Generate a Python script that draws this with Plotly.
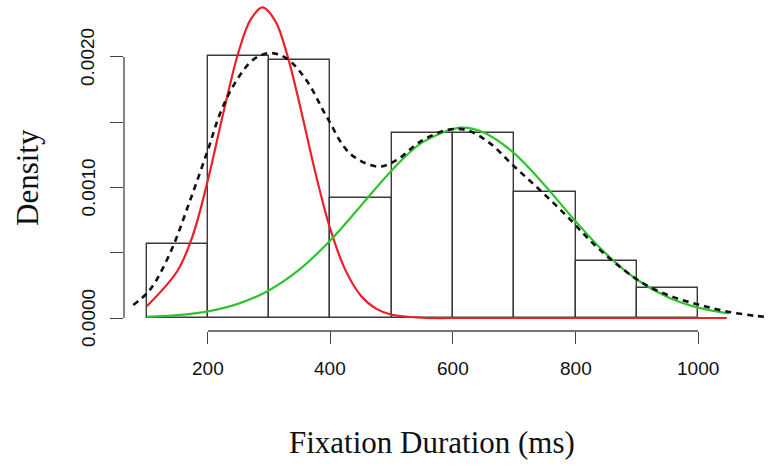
import plotly.graph_objects as go

# Histogram of fixation durations (density scale)
bin_edges = [100, 200, 300, 400, 500, 600, 700, 800, 900, 1000]
bin_density = [0.000565, 0.00201, 0.00198, 0.000917, 0.00142, 0.00142, 0.000963, 0.000439, 0.00023]

# Kernel density estimate (dashed)
kde_x = [78, 105, 138, 171, 200, 220, 244, 274, 301, 328, 361, 394, 432, 478, 508,
         546, 590, 622, 660, 698, 742, 786, 829, 873, 916, 960, 1003, 1047, 1096, 1108]
kde_y = [0.0001, 0.000215, 0.000496, 0.000904, 0.00129, 0.00157, 0.0018, 0.00198, 0.00203,
         0.00199, 0.00182, 0.00154, 0.00126, 0.00116, 0.00121, 0.00135, 0.00144, 0.00144,
         0.00134, 0.00117, 0.00098, 0.00078, 0.00057, 0.00039, 0.00025, 0.00016, 0.0001,
         0.00005, 0.000015, 0.00001]

# Short-fixation mixture component (red)
red_x = [100, 150, 175, 200, 225, 250, 270, 289, 310, 330, 350, 375, 400, 425, 450, 475,
         500, 550, 600, 700, 800, 900, 1000, 1047]
red_y = [0.00009, 0.00036, 0.00063, 0.00106, 0.00157, 0.00204, 0.00229, 0.00238, 0.002275,
         0.002005, 0.00163, 0.00112, 0.000677, 0.000361, 0.000169, 0.00007, 0.000025,
         0.000002, 0, 0, 0, 0, 0, 0]

# Long-fixation mixture component (green)
green_x = [100, 150, 200, 250, 300, 350, 400, 450, 500, 550, 614, 650, 700, 750, 800, 850,
           900, 950, 1000, 1050]
green_y = [0.0000084, 0.0000217, 0.0000513, 0.00011, 0.000213, 0.000374, 0.000596, 0.000862,
           0.001131, 0.001346, 0.001458, 0.001421, 0.001262, 0.001016, 0.000742, 0.000491,
           0.000295, 0.000161, 0.0000794, 0.0000356]

x_ticks = [200, 400, 600, 800, 1000]
x_tick_text = ["200", "400", "600", "800", "1000"]
y_ticks = [0.0, 0.0005, 0.0010, 0.0015, 0.0020]
y_tick_text = ["0.0000", "", "0.0010", "", "0.0020"]

bar_x = [(a + b) / 2 for a, b in zip(bin_edges[:-1], bin_edges[1:])]
bar_w = [b - a for a, b in zip(bin_edges[:-1], bin_edges[1:])]

fig = go.Figure()
fig.add_trace(go.Bar(x=bar_x, y=bin_density, width=bar_w,
                     marker=dict(color="white", line=dict(color="#3a3a3a", width=1.4))))
fig.add_trace(go.Scatter(x=red_x, y=red_y, mode="lines", line_shape="spline",
                         line=dict(color="#ec2027", width=2.2)))
fig.add_trace(go.Scatter(x=green_x, y=green_y, mode="lines", line_shape="spline",
                         line=dict(color="#2fc42f", width=2.2)))
fig.add_trace(go.Scatter(x=kde_x, y=kde_y, mode="lines", line_shape="spline",
                         line=dict(color="#111111", width=2.6, dash="6px,5px")))

axis_color = "#444444"
tick_font = dict(family="Liberation Sans, Arial, sans-serif", size=19, color="#111111")
serif = "Liberation Serif, Times New Roman, serif"

fig.update_layout(
    width=770, height=466,
    margin=dict(l=124, r=4, t=4, b=135),
    paper_bgcolor="white", plot_bgcolor="white",
    showlegend=False, bargap=0,
    xaxis=dict(range=[62.9, 1111], tickvals=x_ticks, ticks="outside", ticklen=12,
               tickcolor=axis_color, tickwidth=1.3, showline=False, showgrid=False,
               zeroline=False, showticklabels=False),
    yaxis=dict(range=[-0.0000996, 0.002406], tickvals=y_ticks,
               ticks="outside", ticklen=13, tickcolor=axis_color, tickwidth=1.3,
               showline=False, showgrid=False, zeroline=False, showticklabels=False),
    font=dict(family=serif, color="#111111"),
)

# R-style axis lines spanning only the first to last tick
fig.add_shape(type="line", xref="x", yref="paper", x0=x_ticks[0], x1=x_ticks[-1], y0=0, y1=0,
              line=dict(color=axis_color, width=1.3))
fig.add_shape(type="line", xref="paper", yref="y", x0=0, x1=0, y0=y_ticks[0], y1=y_ticks[-1],
              line=dict(color=axis_color, width=1.3))

# Tick labels, set a little further out from the ticks
for v, t in zip(x_ticks, x_tick_text):
    fig.add_annotation(text=t, x=v, xref="x", y=0, yref="paper", yshift=-37,
                       xanchor="center", yanchor="middle", showarrow=False, font=tick_font)
for v, t in zip(y_ticks, y_tick_text):
    if t:
        fig.add_annotation(text=t, x=0, xref="paper", y=v, yref="y", xshift=-36,
                           xanchor="center", yanchor="middle", textangle=-90,
                           showarrow=False, font=tick_font)

fig.add_annotation(text="Fixation Duration (ms)", xref="paper", yref="paper",
                   x=0.4798, y=-0.3425, xanchor="center", yanchor="middle", showarrow=False,
                   font=dict(family=serif, size=31, color="#111111"))
fig.add_annotation(text="Density", xref="paper", yref="paper", textangle=-90,
                   x=-0.1495, y=0.468, xanchor="center", yanchor="middle", showarrow=False,
                   font=dict(family=serif, size=31, color="#111111"))

fig.write_html("out.html")
